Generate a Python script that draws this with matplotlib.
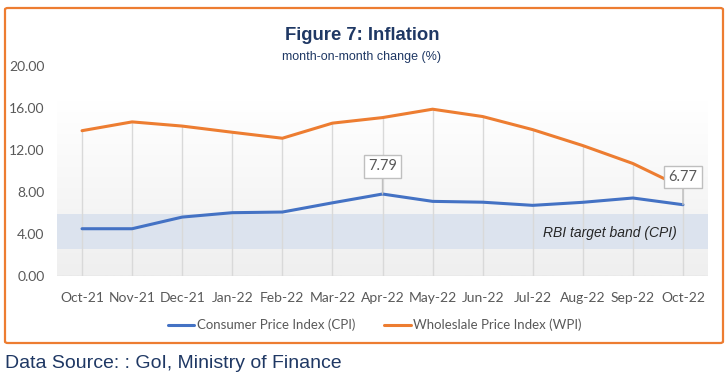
import matplotlib
matplotlib.use("Agg")
import matplotlib.pyplot as plt
import numpy as np
from matplotlib.patches import FancyBboxPatch
from matplotlib.colors import LinearSegmentedColormap

plt.rcParams['font.family'] = ['Liberation Sans', 'DejaVu Sans']

months = ["Oct-21", "Nov-21", "Dec-21", "Jan-22", "Feb-22", "Mar-22", "Apr-22",
          "May-22", "Jun-22", "Jul-22", "Aug-22", "Sep-22", "Oct-22"]
cpi = [4.48, 4.48, 5.59, 6.01, 6.07, 6.95, 7.79, 7.09, 7.01, 6.71, 7.00, 7.41, 6.77]
wpi = [13.83, 14.67, 14.27, 13.68, 13.11, 14.55, 15.08, 15.88, 15.18, 13.93, 12.41, 10.70, 8.39]
band_low, band_high = 2.5, 5.9
yticks = [0, 4, 8, 12, 16, 20]
labelled = {6: "7.79", 12: "6.77"}

W, H = 727, 377
fig = plt.figure(figsize=(W / 100, H / 100), dpi=100)
fig.patch.set_facecolor("white")

# orange frame
frame = FancyBboxPatch((5 / W, 1 - 343 / H), 718 / W, 335 / H,
                       boxstyle="round,pad=0,rounding_size=0.004",
                       transform=fig.transFigure, facecolor="none",
                       edgecolor="#ED7D31", linewidth=1.6, zorder=0)
fig.patches.append(frame)

ax = fig.add_axes([57 / W, 1 - 275.7 / H, 651 / W, (275.7 - 66) / H])
ax.set_facecolor("none")
x = np.arange(len(months))
ax.set_xlim(-0.5, 12.5)
ax.set_ylim(0, 20)

# gradient plot-area background
grad = np.linspace(0, 1, 100).reshape(-1, 1)
cmap = LinearSegmentedColormap.from_list("g", ["#ffffff", "#efefef"])
ax.imshow(grad, extent=(-0.54, 12.5, 0, 16.7), aspect="auto", cmap=cmap,
          origin="upper", zorder=0)
ax.axhspan(band_low, band_high, xmin=0, xmax=1, color="#dce3ee", zorder=1, lw=0)

# drop lines
ax.vlines(x, 0, wpi, colors="#d9d9d9", linewidth=1.0, zorder=2)
ax.axhline(0, color="#d9d9d9", linewidth=1.0, zorder=2)

ax.plot(x, cpi, color="#4472C4", linewidth=2.2, zorder=4,
        label="Consumer Price Index (CPI)", solid_capstyle="round")
ax.plot(x, wpi, color="#ED7D31", linewidth=2.2, zorder=4,
        label="Wholeslale Price Index (WPI)", solid_capstyle="round")

for i, txt in labelled.items():
    ax.annotate(txt, xy=(x[i], cpi[i]), xytext=(0, 20), textcoords="offset points",
                ha="center", va="center", fontsize=10.5, color="#595959",
                fontfamily=["Lato", "DejaVu Sans"],
                bbox=dict(boxstyle="square,pad=0.3", fc="white", ec="#bfbfbf", lw=1),
                arrowprops=dict(arrowstyle="-", color="#bfbfbf", lw=1,
                                shrinkA=0, shrinkB=0), zorder=6)

ax.text(11.88, 4.05, "RBI target band (CPI)", ha="right", va="center",
        fontsize=10, style="italic", color="#262626", zorder=5)

for s in ax.spines.values():
    s.set_visible(False)
ax.set_xticks(x)
ax.set_xticklabels(months, fontfamily=["Lato", "DejaVu Sans"])
ax.set_yticks(yticks)
ax.set_yticklabels([f"{v:.2f}" for v in yticks], fontfamily=["Lato", "DejaVu Sans"])
ax.tick_params(axis="both", length=0, labelsize=10, labelcolor="#595959")
ax.tick_params(axis="x", pad=12)
ax.tick_params(axis="y", pad=9)

fig.text(362 / W, 1 - 36 / H, "Figure 7: Inflation", ha="center", va="center",
         fontsize=13.3, fontweight="bold", color="#1F3864")
fig.text(362 / W, 1 - 57 / H, "month-on-month change (%)", ha="center", va="center",
         fontsize=9, color="#1F3864")

leg = fig.legend(loc="center", bbox_to_anchor=(375 / W, 1 - 325 / H), ncol=2,
                 frameon=False, handlelength=2.0, handletextpad=0.2,
                 columnspacing=2.2, prop={"family": ["Lato", "DejaVu Sans"], "size": 9.5})
for t in leg.get_texts():
    t.set_color("#595959")

fig.text(5 / W, 1 - 363 / H, "Data Source: : GoI, Ministry of Finance", ha="left",
         va="center", fontsize=14, color="#1F3864")

fig.savefig("out.png", dpi=100)
